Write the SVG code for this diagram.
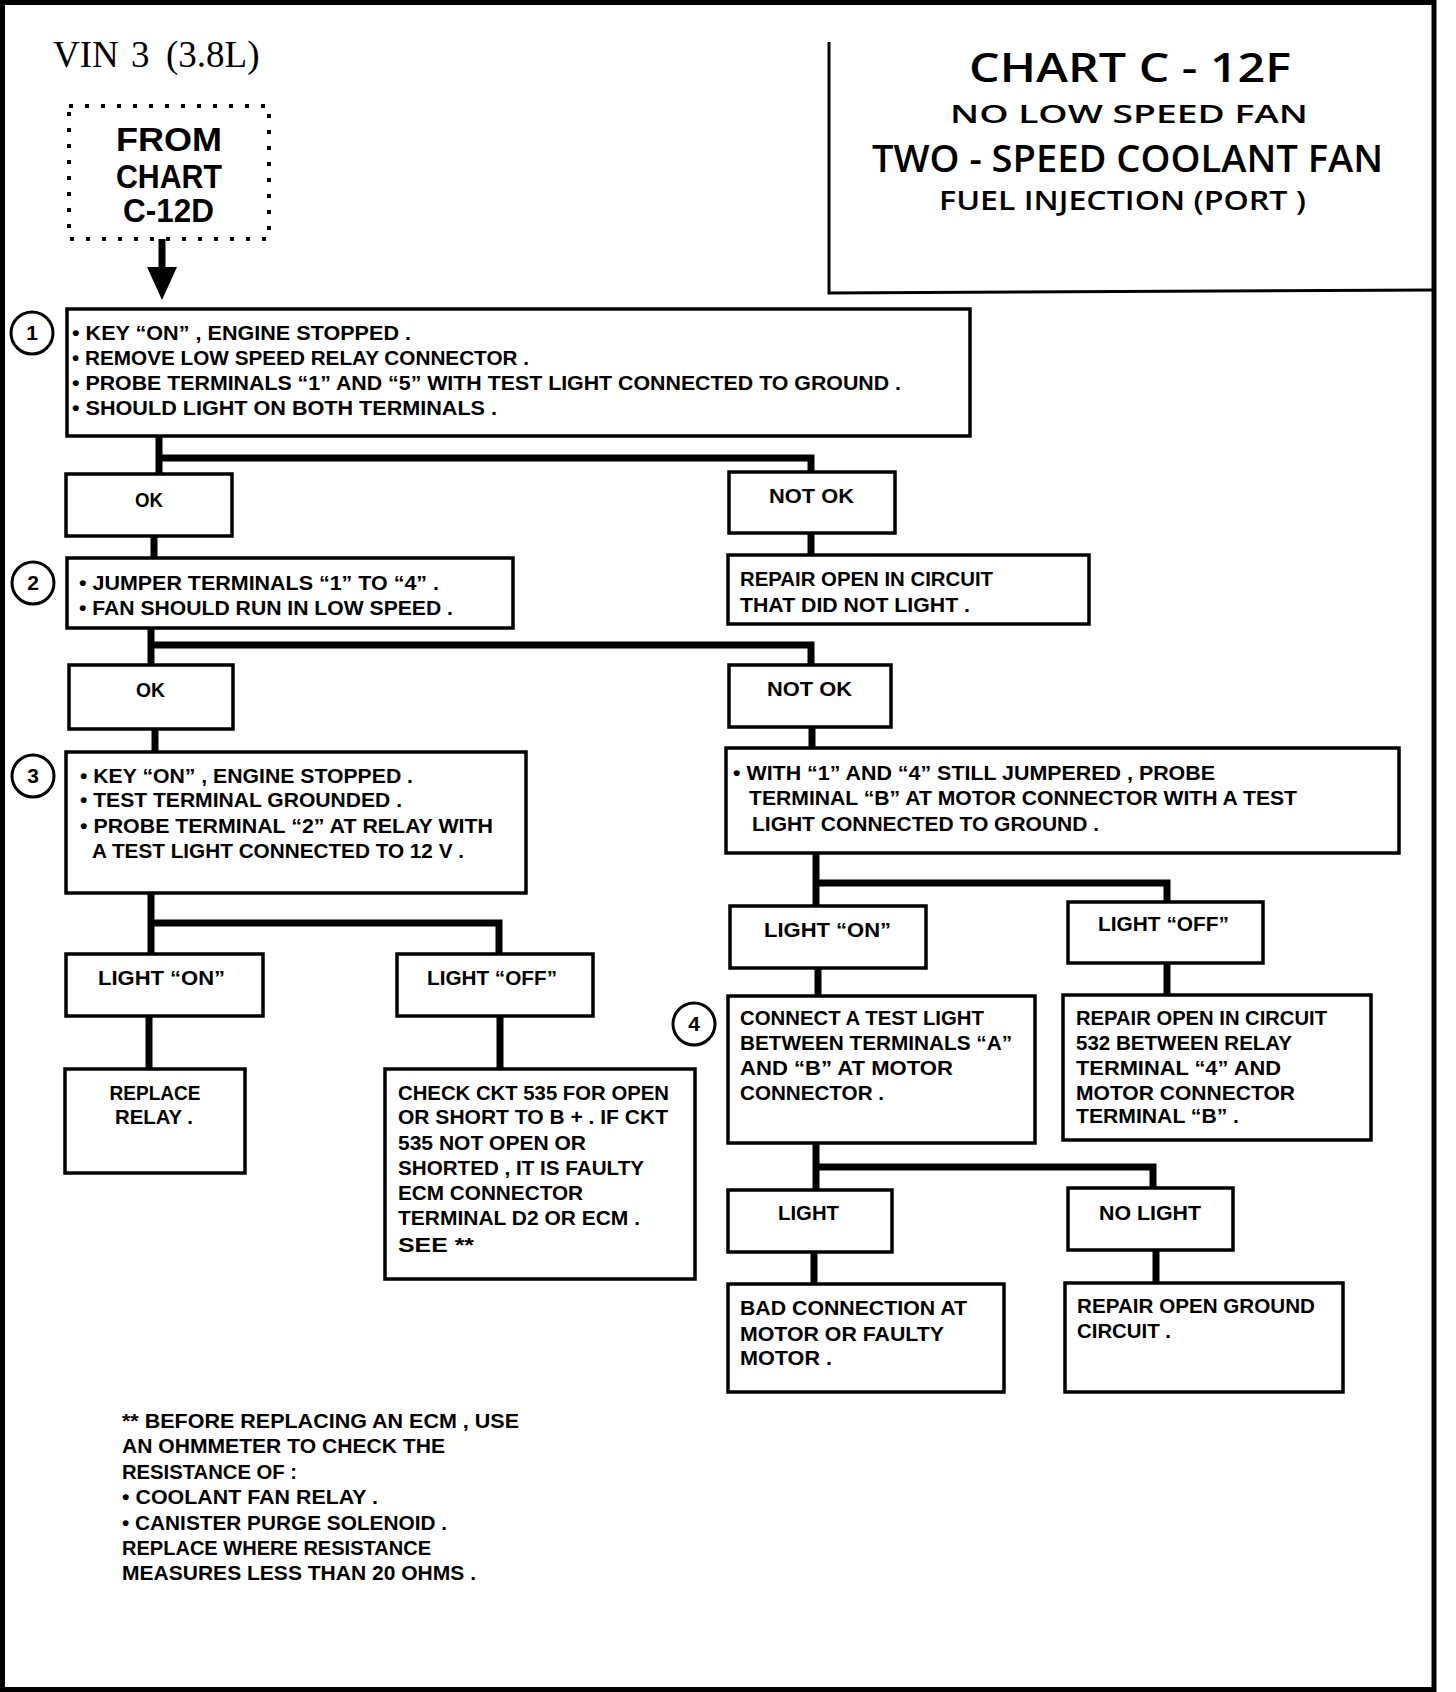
<svg xmlns="http://www.w3.org/2000/svg" width="1456" height="1692" viewBox="0 0 1456 1692">
<style>
.box{fill:#fff;stroke:#000;stroke-width:3.5}
.conn{fill:none;stroke:#000;stroke-width:7;stroke-linejoin:miter}
.t{font-family:"Liberation Sans Narrow","Liberation Sans",Arial,sans-serif;font-weight:bold;font-size:21px;fill:#000}
.big{font-size:33px}
.c{text-anchor:middle}
.ttl{font-family:"Open Sans","Liberation Sans",sans-serif;font-weight:600;fill:#000}
.num{fill:#fff;stroke:#000;stroke-width:3}
</style>
<rect x="0" y="0" width="1456" height="1692" fill="#fff"/>
<rect x="2.5" y="2.5" width="1431.5" height="1687" fill="none" stroke="#000" stroke-width="5"/>

<g id="header">
<text y="67" font-family="Liberation Serif,serif" font-size="37"><tspan x="53">VIN</tspan><tspan x="131">3</tspan><tspan x="166">(3.8L)</tspan></text>
</g>

<g id="title">
<path d="M829,42 V293 L1434,290" fill="none" stroke="#000" stroke-width="3"/>
<text class="ttl" x="969" y="82" font-size="40" textLength="322" lengthAdjust="spacingAndGlyphs">CHART C - 12F</text>
<text class="ttl" x="950" y="123" font-size="26" textLength="358" lengthAdjust="spacingAndGlyphs">NO LOW SPEED FAN</text>
<text class="ttl" x="872" y="172" font-size="38" textLength="511" lengthAdjust="spacingAndGlyphs">TWO - SPEED COOLANT FAN</text>
<text class="ttl" x="939" y="210" font-size="27" textLength="367" lengthAdjust="spacingAndGlyphs">FUEL INJECTION (PORT )</text>
</g>

<g id="from">
<rect x="69" y="106" width="200" height="133" fill="none" stroke="#000" stroke-width="4" stroke-dasharray="4 12"/>
<text class="t big" x="116" y="151" textLength="106" lengthAdjust="spacingAndGlyphs">FROM</text>
<text class="t big" x="116" y="188" textLength="106" lengthAdjust="spacingAndGlyphs">CHART</text>
<text class="t big" x="123" y="222" textLength="91" lengthAdjust="spacingAndGlyphs">C-12D</text>
</g>

<g id="connectors">
<path class="conn" d="M162,239 V272"/>
<polygon points="147,267 177,267 162,300" fill="#000"/>
<path class="conn" d="M159,436 V474 M159,458 H811 V472"/>
<path class="conn" d="M811,533 V555"/>
<path class="conn" d="M154,536 V558"/>
<path class="conn" d="M151,628 V665 M151,645 H811 V665"/>
<path class="conn" d="M155,729 V752"/>
<path class="conn" d="M812,727 V748"/>
<path class="conn" d="M816,853 V906 M816,883 H1167 V902"/>
<path class="conn" d="M151,893 V954 M151,923 H499 V954"/>
<path class="conn" d="M149,1016 V1069"/>
<path class="conn" d="M500,1016 V1069"/>
<path class="conn" d="M818,968 V996"/>
<path class="conn" d="M1167,963 V995"/>
<path class="conn" d="M816,1143 V1190 M816,1167 H1153 V1188"/>
<path class="conn" d="M814,1252 V1284"/>
<path class="conn" d="M1156,1250 V1283"/>
</g>

<g id="step1">
<circle class="num" cx="32" cy="333" r="21"/>
<text class="t c" x="32" y="340">1</text>
<rect class="box" x="67" y="309" width="903" height="127"/>
<text class="t" x="72" y="340" textLength="339" lengthAdjust="spacingAndGlyphs">• KEY “ON” , ENGINE STOPPED .</text>
<text class="t" x="72" y="365" textLength="457" lengthAdjust="spacingAndGlyphs">• REMOVE LOW SPEED RELAY CONNECTOR .</text>
<text class="t" x="72" y="390" textLength="829" lengthAdjust="spacingAndGlyphs">• PROBE TERMINALS “1” AND “5” WITH TEST LIGHT CONNECTED TO GROUND .</text>
<text class="t" x="72" y="415" textLength="425" lengthAdjust="spacingAndGlyphs">• SHOULD LIGHT ON BOTH TERMINALS .</text>
</g>

<g id="ok1">
<rect class="box" x="66" y="474" width="166" height="62"/>
<text class="t" x="135" y="507" textLength="28" lengthAdjust="spacingAndGlyphs">OK</text>
</g>
<g id="notok1">
<rect class="box" x="729" y="472" width="166" height="61"/>
<text class="t" x="769" y="503" textLength="85" lengthAdjust="spacingAndGlyphs">NOT OK</text>
</g>
<g id="repair1">
<rect class="box" x="728" y="555" width="361" height="69"/>
<text class="t" x="740" y="586" textLength="253" lengthAdjust="spacingAndGlyphs">REPAIR OPEN IN CIRCUIT</text>
<text class="t" x="740" y="612" textLength="230" lengthAdjust="spacingAndGlyphs">THAT DID NOT LIGHT .</text>
</g>

<g id="step2">
<circle class="num" cx="33" cy="583" r="21"/>
<text class="t c" x="33" y="590">2</text>
<rect class="box" x="67" y="558" width="446" height="70"/>
<text class="t" x="79" y="590" textLength="360" lengthAdjust="spacingAndGlyphs">• JUMPER TERMINALS “1” TO “4” .</text>
<text class="t" x="79" y="615" textLength="374" lengthAdjust="spacingAndGlyphs">• FAN SHOULD RUN IN LOW SPEED .</text>
</g>

<g id="ok2">
<rect class="box" x="69" y="665" width="164" height="64"/>
<text class="t" x="136" y="697" textLength="29" lengthAdjust="spacingAndGlyphs">OK</text>
</g>
<g id="notok2">
<rect class="box" x="729" y="665" width="162" height="62"/>
<text class="t" x="767" y="696" textLength="85" lengthAdjust="spacingAndGlyphs">NOT OK</text>
</g>

<g id="step3">
<circle class="num" cx="33" cy="776" r="21"/>
<text class="t c" x="33" y="783">3</text>
<rect class="box" x="66" y="752" width="460" height="141"/>
<text class="t" x="80" y="783" textLength="333" lengthAdjust="spacingAndGlyphs">• KEY “ON” , ENGINE STOPPED .</text>
<text class="t" x="80" y="807" textLength="322" lengthAdjust="spacingAndGlyphs">• TEST TERMINAL GROUNDED .</text>
<text class="t" x="80" y="833" textLength="413" lengthAdjust="spacingAndGlyphs">• PROBE TERMINAL “2” AT RELAY WITH</text>
<text class="t" x="92" y="858" textLength="372" lengthAdjust="spacingAndGlyphs">A TEST LIGHT CONNECTED TO 12 V .</text>
</g>

<g id="with">
<rect class="box" x="726" y="748" width="673" height="105"/>
<text class="t" x="733" y="780" textLength="482" lengthAdjust="spacingAndGlyphs">• WITH “1” AND “4” STILL JUMPERED , PROBE</text>
<text class="t" x="749" y="805" textLength="548" lengthAdjust="spacingAndGlyphs">TERMINAL “B” AT MOTOR CONNECTOR WITH A TEST</text>
<text class="t" x="752" y="831" textLength="347" lengthAdjust="spacingAndGlyphs">LIGHT CONNECTED TO GROUND .</text>
</g>

<g id="lighton-left">
<rect class="box" x="66" y="954" width="197" height="62"/>
<text class="t" x="98" y="985" textLength="127" lengthAdjust="spacingAndGlyphs">LIGHT “ON”</text>
</g>
<g id="lightoff-left">
<rect class="box" x="397" y="954" width="196" height="62"/>
<text class="t" x="427" y="985" textLength="130" lengthAdjust="spacingAndGlyphs">LIGHT “OFF”</text>
</g>
<g id="replace">
<rect class="box" x="65" y="1069" width="180" height="104"/>
<text class="t c" x="155" y="1100" textLength="91" lengthAdjust="spacingAndGlyphs">REPLACE</text>
<text class="t c" x="154" y="1124" textLength="78" lengthAdjust="spacingAndGlyphs">RELAY .</text>
</g>
<g id="check">
<rect class="box" x="385" y="1069" width="310" height="210"/>
<text class="t" x="398" y="1100" textLength="271" lengthAdjust="spacingAndGlyphs">CHECK CKT 535 FOR OPEN</text>
<text class="t" x="398" y="1124" textLength="270" lengthAdjust="spacingAndGlyphs">OR SHORT TO B + . IF CKT</text>
<text class="t" x="398" y="1150" textLength="188" lengthAdjust="spacingAndGlyphs">535 NOT OPEN OR</text>
<text class="t" x="398" y="1175" textLength="246" lengthAdjust="spacingAndGlyphs">SHORTED , IT IS FAULTY</text>
<text class="t" x="398" y="1200" textLength="185" lengthAdjust="spacingAndGlyphs">ECM CONNECTOR</text>
<text class="t" x="398" y="1225" textLength="242" lengthAdjust="spacingAndGlyphs">TERMINAL D2 OR ECM .</text>
<text class="t" x="398" y="1252" textLength="76" lengthAdjust="spacingAndGlyphs">SEE **</text>
</g>

<g id="lighton-right">
<rect class="box" x="730" y="906" width="196" height="62"/>
<text class="t" x="764" y="937" textLength="127" lengthAdjust="spacingAndGlyphs">LIGHT “ON”</text>
</g>
<g id="lightoff-right">
<rect class="box" x="1068" y="902" width="195" height="61"/>
<text class="t" x="1098" y="931" textLength="131" lengthAdjust="spacingAndGlyphs">LIGHT “OFF”</text>
</g>

<g id="step4">
<circle class="num" cx="694" cy="1024" r="21"/>
<text class="t c" x="694" y="1031">4</text>
<rect class="box" x="728" y="996" width="307" height="147"/>
<text class="t" x="740" y="1025" textLength="244" lengthAdjust="spacingAndGlyphs">CONNECT A TEST LIGHT</text>
<text class="t" x="740" y="1050" textLength="272" lengthAdjust="spacingAndGlyphs">BETWEEN TERMINALS “A”</text>
<text class="t" x="740" y="1075" textLength="213" lengthAdjust="spacingAndGlyphs">AND “B” AT MOTOR</text>
<text class="t" x="740" y="1100" textLength="144" lengthAdjust="spacingAndGlyphs">CONNECTOR .</text>
</g>

<g id="repair532">
<rect class="box" x="1063" y="995" width="308" height="145"/>
<text class="t" x="1076" y="1025" textLength="251" lengthAdjust="spacingAndGlyphs">REPAIR OPEN IN CIRCUIT</text>
<text class="t" x="1076" y="1050" textLength="216" lengthAdjust="spacingAndGlyphs">532 BETWEEN RELAY</text>
<text class="t" x="1076" y="1075" textLength="205" lengthAdjust="spacingAndGlyphs">TERMINAL “4” AND</text>
<text class="t" x="1076" y="1100" textLength="219" lengthAdjust="spacingAndGlyphs">MOTOR CONNECTOR</text>
<text class="t" x="1076" y="1123" textLength="163" lengthAdjust="spacingAndGlyphs">TERMINAL “B” .</text>
</g>

<g id="light">
<rect class="box" x="728" y="1190" width="164" height="62"/>
<text class="t" x="778" y="1220" textLength="61" lengthAdjust="spacingAndGlyphs">LIGHT</text>
</g>
<g id="nolight">
<rect class="box" x="1068" y="1188" width="165" height="62"/>
<text class="t" x="1099" y="1220" textLength="102" lengthAdjust="spacingAndGlyphs">NO LIGHT</text>
</g>

<g id="bad">
<rect class="box" x="728" y="1284" width="276" height="108"/>
<text class="t" x="740" y="1315" textLength="227" lengthAdjust="spacingAndGlyphs">BAD CONNECTION AT</text>
<text class="t" x="740" y="1341" textLength="204" lengthAdjust="spacingAndGlyphs">MOTOR OR FAULTY</text>
<text class="t" x="740" y="1365" textLength="92" lengthAdjust="spacingAndGlyphs">MOTOR .</text>
</g>
<g id="repairground">
<rect class="box" x="1065" y="1283" width="278" height="109"/>
<text class="t" x="1077" y="1313" textLength="238" lengthAdjust="spacingAndGlyphs">REPAIR OPEN GROUND</text>
<text class="t" x="1077" y="1338" textLength="94" lengthAdjust="spacingAndGlyphs">CIRCUIT .</text>
</g>

<g id="footnote">
<text class="t" x="122" y="1428" textLength="397" lengthAdjust="spacingAndGlyphs">**  BEFORE REPLACING AN ECM , USE</text>
<text class="t" x="122" y="1453" textLength="323" lengthAdjust="spacingAndGlyphs">AN OHMMETER TO CHECK THE</text>
<text class="t" x="122" y="1479" textLength="175" lengthAdjust="spacingAndGlyphs">RESISTANCE OF :</text>
<text class="t" x="122" y="1504" textLength="256" lengthAdjust="spacingAndGlyphs">• COOLANT FAN RELAY .</text>
<text class="t" x="122" y="1530" textLength="325" lengthAdjust="spacingAndGlyphs">• CANISTER PURGE SOLENOID .</text>
<text class="t" x="122" y="1555" textLength="309" lengthAdjust="spacingAndGlyphs">REPLACE WHERE RESISTANCE</text>
<text class="t" x="122" y="1580" textLength="354" lengthAdjust="spacingAndGlyphs">MEASURES LESS THAN 20 OHMS .</text>
</g>
</svg>
